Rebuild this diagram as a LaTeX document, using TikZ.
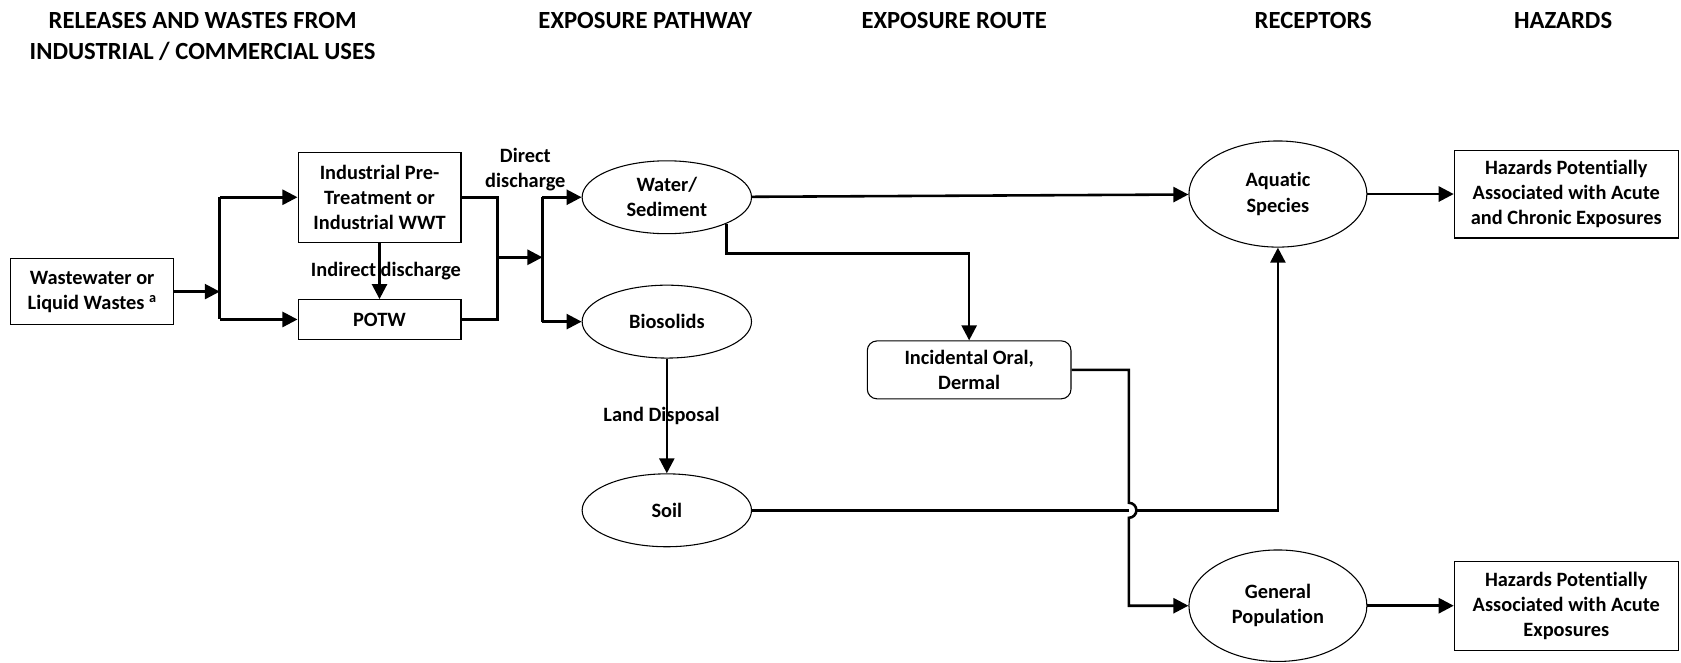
\documentclass[tikz,border=0pt]{standalone}
\usepackage{fontspec}
\setmainfont{Carlito}[Ligatures=NoCommon]
\usepackage{tikz}
\usetikzlibrary{shapes.geometric,arrows.meta}
\tikzstyle{block} = [rectangle, draw, line width=1pt, text centered, align=center, inner sep=0pt, font=\bfseries\fontsize{19}{23.5}\selectfont]
\tikzstyle{route} = [block, rounded corners=9pt]
\tikzstyle{media} = [ellipse, draw, line width=1pt, align=center, inner sep=0pt, font=\bfseries\fontsize{19}{23.5}\selectfont]
\tikzstyle{title} = [align=center, font=\bfseries\fontsize{23}{29}\selectfont]
\tikzstyle{tag} = [align=center, inner sep=0pt, font=\bfseries\fontsize{19}{23.5}\selectfont]
\tikzstyle{wire} = [draw, line width=2.4pt]
\tikzstyle{line} = [draw, line width=2.4pt, -{Triangle[length=14pt,width=14pt]}]

\begin{document}
\begin{tikzpicture}[x=1pt, y=1pt]
    \useasboundingbox (0,0) rectangle (1568,618);

    \node [title] (release) at (189,584) {RELEASES AND WASTES FROM\\INDUSTRIAL / COMMERCIAL USES};
    \node [title] (pathway) at (602,599) {EXPOSURE PATHWAY};
    \node [title] (route) at (890,599) {EXPOSURE ROUTE};
    \node [title] (receptor) at (1225,599) {RECEPTORS};
    \node [title] (hazard) at (1458,599) {HAZARDS};

    \node [block, minimum width=152pt, minimum height=61pt] (waste) at (86,346) {Wastewater or\\Liquid Wastes \textsuperscript{a}};
    \node [block, minimum width=152pt, minimum height=84pt] (indus) at (354,434) {Industrial Pre-\\Treatment or\\Industrial WWT};
    \node [block, minimum width=152pt, minimum height=37pt, below of=indus, node distance=114pt] (potw) {POTW};

    \node [media, minimum width=158pt, minimum height=68pt] (water) at (622,434) {Water/\\Sediment};
    \node [media, minimum width=158pt, minimum height=68pt, below of=water, node distance=116pt] (bio) {Biosolids};
    \node [media, minimum width=158pt, minimum height=68pt, below of=bio, node distance=176pt] (soil) {Soil};

    \node [route, minimum width=190pt, minimum height=54pt] (incid) at (904,273) {Incidental Oral,\\Dermal};

    \node [media, minimum width=166pt, minimum height=99pt] (aquatic) at (1192,437) {Aquatic\\Species};
    \node [media, minimum width=166pt, minimum height=104pt] (general) at (1192,53) {General\\Population};

    \node [block, minimum width=209pt, minimum height=82pt] (acute1) at (1461,437) {Hazards Potentially\\Associated with Acute\\and Chronic Exposures};
    \node [block, minimum width=209pt, minimum height=83pt] (acute2) at (1461,53) {Hazards Potentially\\Associated with Acute\\Exposures};

    \coordinate (split) at (205,346);
    \coordinate (join) at (464,378);
    \coordinate (fork) at (506,378);
    \coordinate (hop) at (1053,142);

    \node [tag] (direct) at (490,460) {Direct\\discharge};

    \path [line] (waste) -- (split);
    \path [wire] (split |- indus) -- (split |- potw);
    \path [line] (split |- indus) -- (indus);
    \path [line] (split |- potw) -- (potw);
    \path [line] (indus) -- (potw) node [tag, midway, xshift=6pt] {Indirect discharge};
    \path [wire] (indus.east) -| (join) |- (potw.east);
    \path [line] (join) -- (fork);
    \path [wire] (fork |- water) -- (fork |- bio);
    \path [line] (fork |- water) -- (water);
    \path [line] (fork |- bio) -- (bio);
    \path [line] (bio) -- (soil) node [tag, midway, xshift=-5pt] {Land Disposal};
    \path [line] (water) -- (aquatic);
    \path [line] (water.-24) -- ++(0,-28) -| (incid);
    \path [line] (incid.east) -| ([yshift=7pt]hop) arc (90:-90:7) |- (general);
    \path [wire] (soil) -- (hop);
    \path [line] ([xshift=7pt]hop) -| (aquatic);
    \path [line] (aquatic) -- (acute1);
    \path [line] (general) -- (acute2);
\end{tikzpicture}
\end{document}
